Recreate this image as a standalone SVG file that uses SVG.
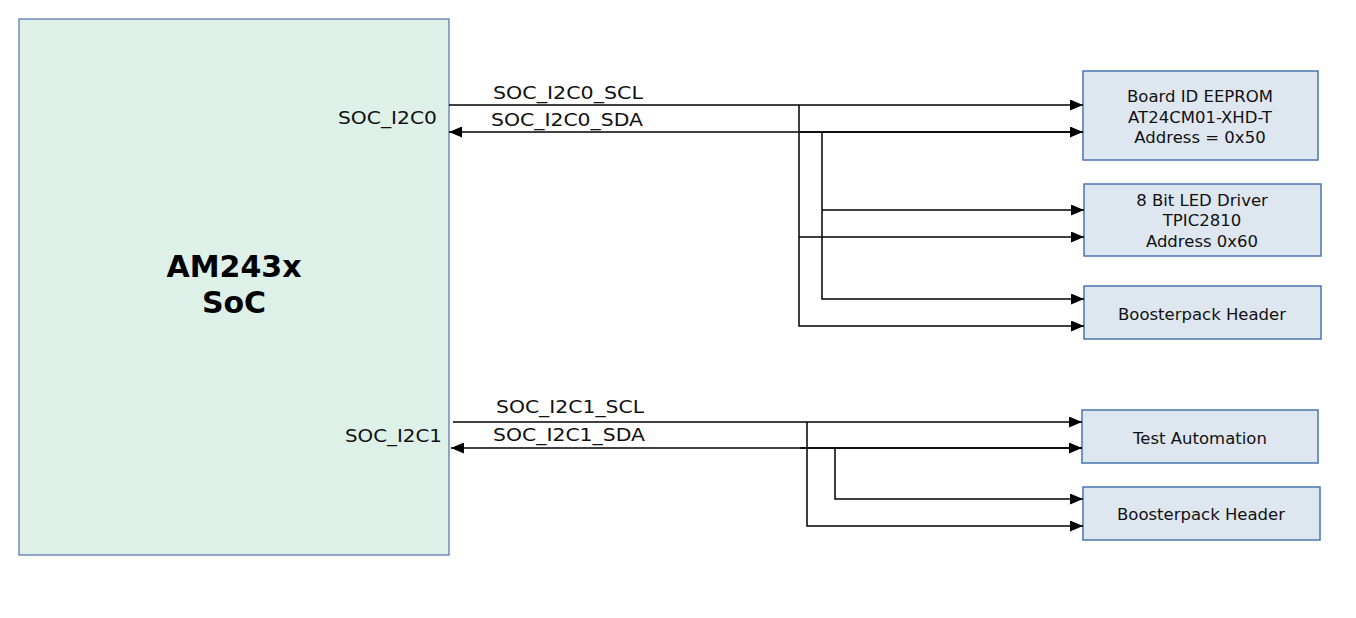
<svg xmlns="http://www.w3.org/2000/svg" width="1356" height="618" viewBox="0 0 1356 618">
<style>
.soc{fill:#ddf1e9;stroke:#5a7db0;stroke-width:1.3}
.blk{fill:#dee6f0;stroke:#4a76b0;stroke-width:1.5}
.w{fill:none;stroke:#000;stroke-width:1.5}
.t{font-family:"DejaVu Sans","Verdana",sans-serif;font-size:16.5px;fill:#111;text-anchor:middle}
.lbl{font-family:"DejaVu Sans","Verdana",sans-serif;font-size:18px;fill:#111}
.big{font-family:"DejaVu Sans","Verdana",sans-serif;font-size:30px;font-weight:bold;fill:#000;text-anchor:middle}
</style>
<defs>
<marker id="ar" markerWidth="13" markerHeight="11" refX="13" refY="5.5" orient="auto" markerUnits="userSpaceOnUse">
<path d="M0,0 L13,5.5 L0,11 Z" fill="#000"/>
</marker>
</defs>
<rect width="1356" height="618" fill="#fff"/>

<g id="soc">
<rect class="soc" x="19" y="19" width="430" height="536"/>
<text class="big" x="234" y="277">AM243x</text>
<text class="big" x="234" y="313">SoC</text>
<text class="lbl" x="338" y="124" textLength="99" lengthAdjust="spacingAndGlyphs">SOC_I2C0</text>
<text class="lbl" x="345" y="442" textLength="97" lengthAdjust="spacingAndGlyphs">SOC_I2C1</text>
</g>

<g id="eeprom">
<rect class="blk" x="1083" y="71" width="235" height="89"/>
<text class="t" x="1200" y="102">Board ID EEPROM</text>
<text class="t" x="1200" y="123">AT24CM01-XHD-T</text>
<text class="t" x="1200" y="143">Address = 0x50</text>
</g>

<g id="led">
<rect class="blk" x="1084" y="184" width="237" height="72"/>
<text class="t" x="1202" y="206">8 Bit LED Driver</text>
<text class="t" x="1202" y="226">TPIC2810</text>
<text class="t" x="1202" y="247">Address 0x60</text>
</g>

<g id="booster1">
<rect class="blk" x="1084" y="286" width="237" height="53"/>
<text class="t" x="1202" y="320">Boosterpack Header</text>
</g>

<g id="testauto">
<rect class="blk" x="1082" y="410" width="236" height="53"/>
<text class="t" x="1200" y="444">Test Automation</text>
</g>

<g id="booster2">
<rect class="blk" x="1083" y="487" width="237" height="53"/>
<text class="t" x="1201" y="520">Boosterpack Header</text>
</g>

<g id="connectors">
<line class="w" x1="449" y1="105" x2="1083" y2="105" marker-end="url(#ar)"/>
<line class="w" x1="1083" y1="132" x2="449" y2="132" marker-end="url(#ar)"/>
<line class="w" x1="800" y1="132" x2="1083" y2="132" marker-end="url(#ar)"/>
<polyline class="w" points="799,105 799,326 1084,326" marker-end="url(#ar)"/>
<polyline class="w" points="822,132 822,299 1084,299" marker-end="url(#ar)"/>
<line class="w" x1="822" y1="210" x2="1084" y2="210" marker-end="url(#ar)"/>
<line class="w" x1="799" y1="237" x2="1084" y2="237" marker-end="url(#ar)"/>
<text class="lbl" x="493" y="99" textLength="150" lengthAdjust="spacingAndGlyphs">SOC_I2C0_SCL</text>
<text class="lbl" x="491" y="126" textLength="152" lengthAdjust="spacingAndGlyphs">SOC_I2C0_SDA</text>

<line class="w" x1="453" y1="422" x2="1082" y2="422" marker-end="url(#ar)"/>
<line class="w" x1="1082" y1="448" x2="451" y2="448" marker-end="url(#ar)"/>
<line class="w" x1="800" y1="448" x2="1082" y2="448" marker-end="url(#ar)"/>
<polyline class="w" points="807,422 807,526 1083,526" marker-end="url(#ar)"/>
<polyline class="w" points="835,448 835,499 1083,499" marker-end="url(#ar)"/>
<text class="lbl" x="496" y="413" textLength="148" lengthAdjust="spacingAndGlyphs">SOC_I2C1_SCL</text>
<text class="lbl" x="493" y="441" textLength="152" lengthAdjust="spacingAndGlyphs">SOC_I2C1_SDA</text>
</g>
</svg>
